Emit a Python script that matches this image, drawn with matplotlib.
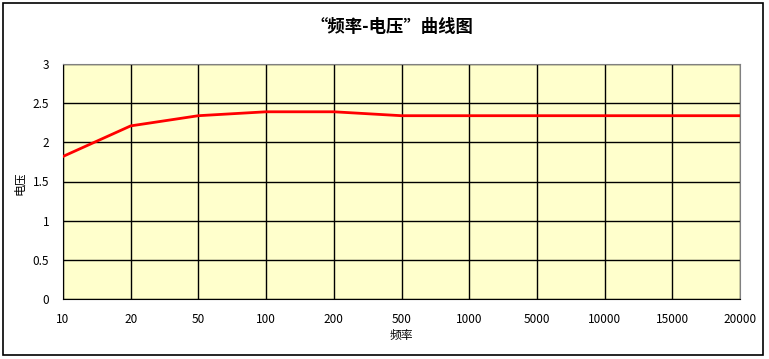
import matplotlib
matplotlib.use("Agg")
import matplotlib.pyplot as plt
from matplotlib.patches import Rectangle

plt.rcParams['font.family'] = ['Noto Sans CJK SC', 'DejaVu Sans']

# données : fréquence (catégories) -> tension
freq_labels = ["10", "20", "50", "100", "200", "500", "1000", "5000", "10000", "15000", "20000"]
voltage = [1.82, 2.21, 2.34, 2.39, 2.39, 2.34, 2.34, 2.34, 2.34, 2.34, 2.34]
y_ticks = [0, 0.5, 1, 1.5, 2, 2.5, 3]
y_tick_labels = ["0", "0.5", "1", "1.5", "2", "2.5", "3"]

W, H = 769, 359
fig = plt.figure(figsize=(W / 100, H / 100), dpi=100)
fig.patch.set_facecolor("white")

# cadre extérieur
fig.add_artist(Rectangle((3 / W, 1 - 355 / H), 760 / W, 352 / H, transform=fig.transFigure,
                         fill=False, ec="black", lw=1.2))

ax = fig.add_axes([63 / W, 1 - 299 / H, 677 / W, 235 / H])
ax.set_facecolor("#FFFFCC")
x = list(range(len(freq_labels)))
ax.plot(x, voltage, color="#FF0000", lw=2.0, zorder=3)

ax.set_xlim(0, len(freq_labels) - 1)
ax.set_ylim(0, 3)
ax.set_xticks(x)
ax.set_xticklabels(freq_labels)
ax.set_yticks(y_ticks)
ax.set_yticklabels(y_tick_labels)
ax.tick_params(length=0, labelsize=8.5, colors="black")
ax.tick_params(axis="x", pad=10)
ax.tick_params(axis="y", pad=10)
ax.grid(True, color="black", lw=1.0, zorder=1)
ax.set_axisbelow(True)

for side in ("left", "bottom"):
    ax.spines[side].set_color("black")
for side in ("top", "right"):
    ax.spines[side].set_color("#808080")

fig.text(392 / W, 1 - 27 / H, "“频率-电压”曲线图", ha="center", va="center",
         fontsize=12.5, fontweight="bold")
fig.text(401 / W, 1 - 336 / H, "频率", ha="center", va="center", fontsize=8.5)
fig.text(20 / W, 1 - 183 / H, "电压", ha="center", va="center", fontsize=8.5, rotation=90)

fig.savefig("out.png", dpi=100, facecolor="white")
